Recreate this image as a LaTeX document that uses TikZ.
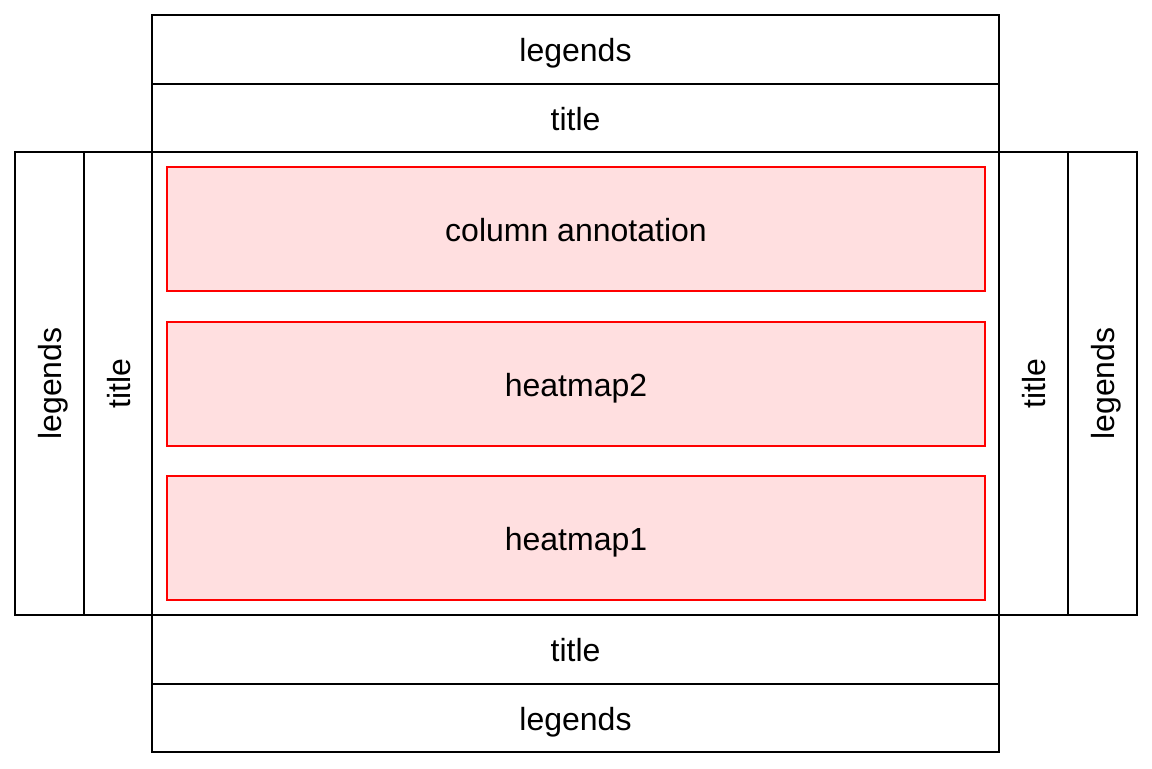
\documentclass[tikz,border=0pt]{standalone}
\usepackage{fontspec}
\setmainfont{Liberation Sans}
\definecolor{pinkfill}{HTML}{FFDFE0}
\begin{document}
\begin{tikzpicture}[x=0.75pt,y=-0.75pt,
  blk/.style={draw=black,line width=1.1pt,fill=white},
  hm/.style={draw=red,line width=1.1pt,fill=pinkfill},
  lbl/.style={font=\fontsize{24}{28}\selectfont,inner sep=0pt,anchor=base}]
\useasboundingbox (0,0) rectangle (1152,768);
% top
\draw[blk] (152,15) rectangle (999,84);
\node[lbl] (tl) at (575.5,61.5) {legends};
\draw[blk] (152,84) rectangle (999,152);
\node[lbl] (tt) at (575.5,130) {title};
% middle row
\draw[blk] (15,152) rectangle (84,615);
\node[lbl,rotate=90] (ll) at (61.5,383.5) {legends};
\draw[blk] (84,152) rectangle (152,615);
\node[lbl,rotate=90] (lt) at (130,383.5) {title};
\draw[blk] (152,152) rectangle (999,615);
\draw[blk] (999,152) rectangle (1068,615);
\node[lbl,rotate=90] (rt) at (1045.5,383.5) {title};
\draw[blk] (1068,152) rectangle (1137,615);
\node[lbl,rotate=90] (rl) at (1114.5,383.5) {legends};
% bottom
\draw[blk] (152,615) rectangle (999,684);
\node[lbl] (bt) at (575.5,661.5) {title};
\draw[blk] (152,684) rectangle (999,752);
\node[lbl] (bl) at (575.5,730) {legends};
% heatmaps
\draw[hm] (167,167) rectangle (985,291);
\node[lbl] (ca) at (576,241) {column annotation};
\draw[hm] (167,322) rectangle (985,446);
\node[lbl] (h2) at (576,396) {heatmap2};
\draw[hm] (167,476) rectangle (985,600);
\node[lbl] (h1) at (576,550) {heatmap1};
\end{tikzpicture}
\end{document}
